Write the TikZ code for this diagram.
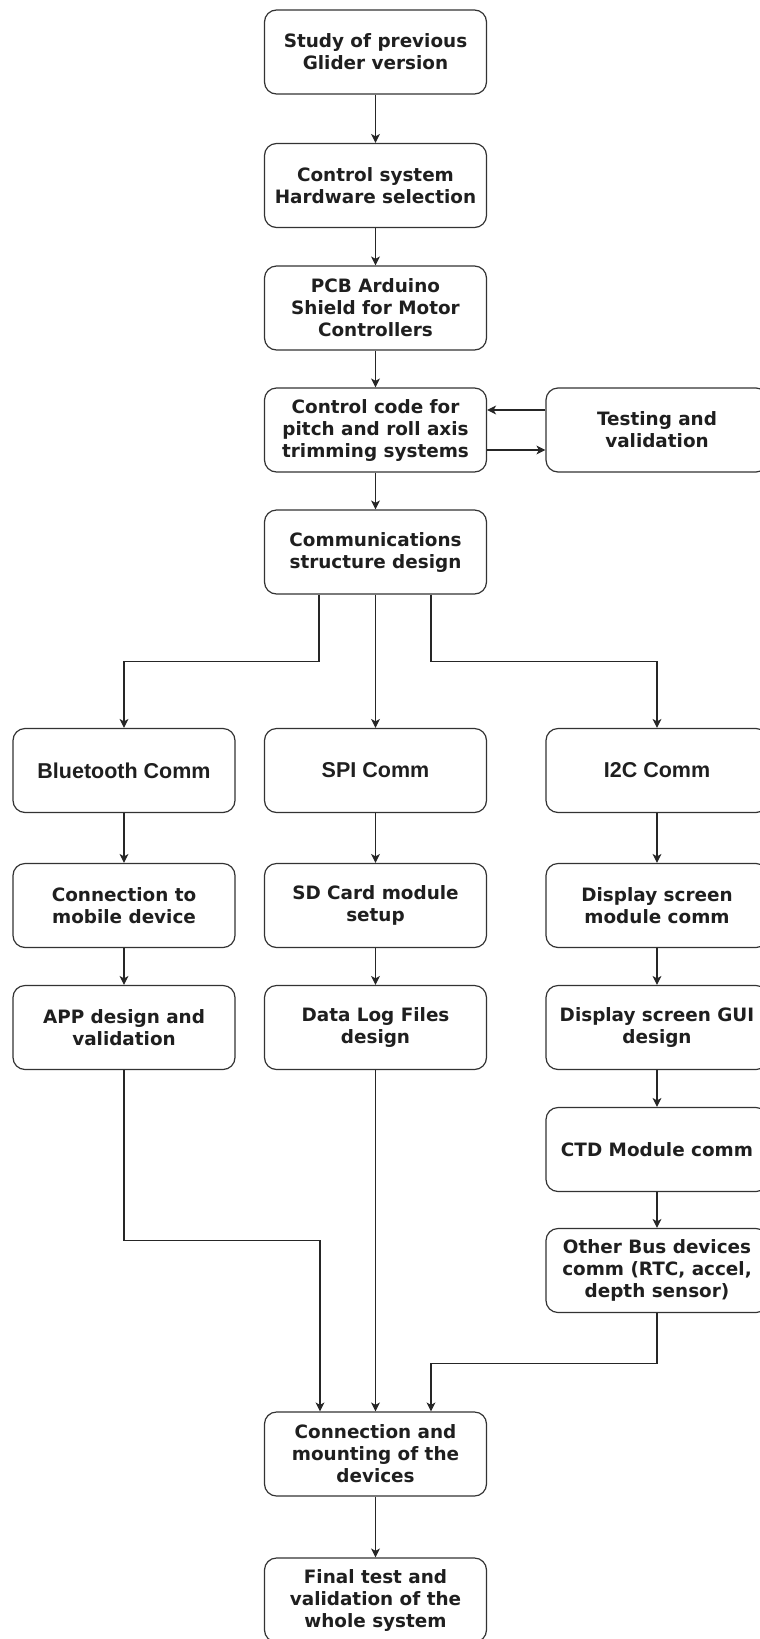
\documentclass[tikz,border=0pt]{standalone}
\usepackage{fontspec}
\setmainfont{DejaVu Sans}
\newfontfamily\arialfont{Liberation Sans}
\usetikzlibrary{arrows.meta, positioning}

\begin{document}
\begin{tikzpicture}[x=1pt, y=-1pt,
  box/.style={draw=black!80, line width=1.2pt, rounded corners=12pt, fill=white,
    minimum width=222pt, minimum height=84pt, inner sep=3pt, align=center,
    font=\fontsize{18.4}{22}\selectfont\bfseries, text=black!88},
  commbox/.style={box, font=\arialfont\fontsize{21.5}{24}\selectfont\bfseries},
  arr/.style={-{Stealth[length=9pt, width=9pt, inset=2.5pt]}, line width=1.1pt, black!85}]
  \useasboundingbox (0,0) rectangle (760,1639);

  % Main column
  \node[box] (study) at (375.5,52)   {Study of previous\\Glider version};
  \node[box] (hw)    at (375.5,185.5) {Control system\\Hardware selection};
  \node[box] (pcb)   at (375.5,308)  {PCB Arduino\\Shield for Motor\\Controllers};
  \node[box] (code)  at (375.5,430)  {Control code for\\pitch and roll axis\\trimming systems};
  \node[box] (test)  at (657,430)    {Testing and\\validation};
  \node[box] (comms) at (375.5,552)  {Communications\\structure design};

  % Three bus branches
  \node[commbox] (bt)  at (124,770.5)   {Bluetooth Comm};
  \node[commbox] (spi) at (375.5,770.5) {SPI Comm};
  \node[commbox] (iic) at (657,770.5)   {I2C Comm};

  \node[box] (mobile) at (124,905.5)    {Connection to\\mobile device};
  \node[box] (app)    at (124,1027.5)   {APP design and\\validation};

  \node[box] (sd)     at (375.5,905.5)  {SD Card module\\setup};
  \node[box] (logs)   at (375.5,1027.5) {Data Log Files\\design};

  \node[box] (dsm)    at (657,905.5)    {Display screen\\module comm};
  \node[box] (gui)    at (657,1027.5)   {Display screen GUI\\design};
  \node[box] (ctd)    at (657,1149.5)   {CTD Module comm};
  \node[box] (bus)    at (657,1270.5)   {Other Bus devices\\comm (RTC, accel,\\depth sensor)};

  % Integration
  \node[box] (mount) at (375.5,1454) {Connection and\\mounting of the\\devices};
  \node[box] (final) at (375.5,1600) {Final test and\\validation of the\\whole system};

  % Straight links
  \foreach \a/\b in {study/hw, hw/pcb, pcb/code, code/comms, comms/spi,
                     bt/mobile, mobile/app, spi/sd, sd/logs,
                     iic/dsm, dsm/gui, gui/ctd, ctd/bus,
                     logs/mount, mount/final}
    \draw[arr] (\a) -- (\b);

  % Test loop
  \draw[arr] ([yshift=20pt]test.west) -- ([yshift=20pt]code.east);
  \draw[arr] ([yshift=-20pt]code.east) -- ([yshift=-20pt]test.west);

  % Split to Bluetooth and I2C
  \draw[arr] ([xshift=-56.5pt]comms.south) -- ++(0,67) -| (bt.north);
  \draw[arr] ([xshift=55.5pt]comms.south) -- ++(0,67) -| (iic.north);

  % Merge into mounting
  \draw[arr] (app.south) -- ++(0,170) -| ([xshift=-55.5pt]mount.north);
  \draw[arr] (bus.south) -- ++(0,50) -| ([xshift=55.5pt]mount.north);
\end{tikzpicture}
\end{document}
